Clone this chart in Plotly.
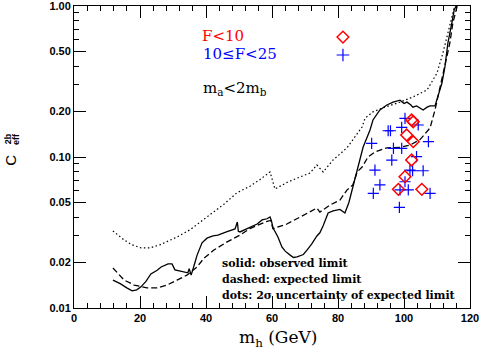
import plotly.graph_objects as go

# 2 sigma uncertainty of expected limit (dotted)
dots_x = [11.8, 15.2, 17.6, 20.3, 23.0, 26.0, 31.2, 35.2, 40.3, 45.5, 49.4, 53.3, 56.4, 58.8, 59.4,
          60.9, 62.4, 64.8, 68.5, 71.5, 73.6, 75.5, 78.5, 82.7, 84.5, 87.3, 88.2, 90.6, 94.2, 98.8,
          102.7, 107.0, 110.0, 111.8, 113.3, 114.5, 115.2, 115.8]
dots_y = [0.0324, 0.0282, 0.0262, 0.0250, 0.0250, 0.0262, 0.0295, 0.0330, 0.0401, 0.0488, 0.0580, 0.0640, 0.0710, 0.0783, 0.0796,
          0.0614, 0.0640, 0.0683, 0.0738, 0.0783, 0.0885, 0.0796, 0.0955, 0.115, 0.130, 0.158, 0.181, 0.199, 0.214, 0.231,
          0.250, 0.278, 0.360, 0.489, 0.662, 0.846, 1.0, 1.1]

# observed limit (solid)
obs_x = [11.8, 14.0, 16.0, 17.6, 19.0, 20.3, 21.8, 23.3, 25.2, 26.4,
         28.5, 29.7, 30.6, 32.0, 33.3, 34.5, 34.9, 35.5, 36.5, 37.3,
         38.8, 40.3, 42.1, 43.6, 46.4, 48.8, 49.5, 49.8, 50.3, 53.3,
         55.5, 57.0, 58.5, 59.4, 59.8, 60.3, 61.8, 63.0, 64.0, 65.5,
         66.5, 67.6, 68.5, 69.5, 70.6, 72.0, 73.6, 74.5, 75.5, 77.0,
         78.5, 79.7, 80.6, 82.1, 83.3, 84.5, 85.5, 86.7, 87.6, 89.7,
         90.6, 92.7, 94.8, 96.7, 98.8, 100.0, 100.9, 102.0, 102.7, 103.8,
         104.8, 105.8, 107.0, 107.9, 109.4, 110.3, 111.5, 112.4, 113.3, 114.5,
         115.2, 115.8, 116.2]
obs_y = [0.0153, 0.0145, 0.0136, 0.0130, 0.0132, 0.0138, 0.0150, 0.0168, 0.0178, 0.0187,
         0.0196, 0.0196, 0.0179, 0.0176, 0.0173, 0.0171, 0.0182, 0.0165, 0.0195, 0.0224,
         0.0270, 0.0290, 0.0300, 0.0304, 0.0320, 0.0334, 0.0371, 0.0322, 0.0319, 0.0344,
         0.0360, 0.0383, 0.0390, 0.0401, 0.0380, 0.0340, 0.0295, 0.0254, 0.0238, 0.0224,
         0.0216, 0.0218, 0.0222, 0.0226, 0.0242, 0.0265, 0.0300, 0.0315, 0.0350, 0.0426,
         0.0440, 0.0446, 0.0450, 0.0426, 0.0500, 0.0633, 0.0780, 0.0955, 0.116, 0.151,
         0.176, 0.205, 0.221, 0.231, 0.238, 0.226, 0.231, 0.222, 0.214, 0.218,
         0.210, 0.205, 0.214, 0.218, 0.218, 0.250, 0.309, 0.395, 0.569, 0.772,
         0.941, 1.0, 1.1]

# expected limit (dashed)
exp_x = [11.8, 15.2, 18.2, 22.1, 25.2, 28.2, 31.2, 34.2, 37.3, 39.4,
         42.4, 46.4, 50.3, 53.3, 58.5, 59.6, 60.3, 62.0, 64.5, 68.5,
         73.6, 74.5, 77.6, 80.6, 82.7, 84.5, 85.8, 87.3, 89.1, 91.2,
         94.8, 98.8, 101.8, 104.8, 107.9, 109.4, 110.9, 112.4, 113.9, 114.8,
         116.1, 116.6]
exp_y = [0.0184, 0.0153, 0.0142, 0.0136, 0.0136, 0.0142, 0.0153, 0.0165, 0.0187, 0.0214,
         0.0242, 0.0274, 0.0304, 0.0336, 0.0375, 0.0380, 0.0335, 0.0345, 0.0360, 0.0400,
         0.0459, 0.0432, 0.0481, 0.0519, 0.0604, 0.0653, 0.0796, 0.0859, 0.100, 0.108,
         0.115, 0.116, 0.120, 0.130, 0.156, 0.205, 0.291, 0.395, 0.569, 0.772,
         0.98, 1.1]

# points with F<10
red_x = [102.3, 102.8, 100.8, 102.8, 102.3, 100.3, 98.3, 105.4]
red_y = [0.1758, 0.1713, 0.1399, 0.1263, 0.0955, 0.0741, 0.0611, 0.0611]

# points with 10<=F<25
blue_x = [100.3, 104.3, 99.3, 95.2, 95.9, 90.2, 107.4, 96.8, 99.3, 96.3, 103.8,
          91.2, 101.8, 102.6, 105.8, 92.7, 100.3, 90.7, 98.8, 101.3, 107.9, 98.6]
blue_y = [0.1804, 0.1629, 0.1573, 0.1493, 0.1493, 0.1232, 0.1263, 0.1142, 0.1142, 0.0955, 0.1005,
          0.0820, 0.0820, 0.0811, 0.0811, 0.0653, 0.0686, 0.0575, 0.0605, 0.0605, 0.0575, 0.0464]

ytick_vals = [0.01, 0.02, 0.05, 0.1, 0.2, 0.5, 1.0]
ytick_text = ["0.01", "0.02", "0.05", "0.10", "0.20", "0.50", "1.00"]
yminor_vals = [0.03, 0.04, 0.06, 0.07, 0.08, 0.09, 0.3, 0.4, 0.6, 0.7, 0.8, 0.9]

RED = "#ff0000"
BLUE = "#0000ff"
SERIF = "DejaVu Serif"
SANS = "Liberation Sans"

fig = go.Figure()

fig.add_trace(go.Scatter(x=dots_x, y=dots_y, mode="lines",
                         line=dict(color="black", width=1.2, dash="1.5px,2.5px")))
fig.add_trace(go.Scatter(x=exp_x, y=exp_y, mode="lines",
                         line=dict(color="black", width=1.3, dash="6px,3px")))
fig.add_trace(go.Scatter(x=obs_x, y=obs_y, mode="lines",
                         line=dict(color="black", width=1.3)))
fig.add_trace(go.Scatter(x=blue_x, y=blue_y, mode="markers",
                         marker=dict(symbol="cross-thin-open", size=8, color=BLUE,
                                     line=dict(color=BLUE, width=1.2))))
fig.add_trace(go.Scatter(x=red_x, y=red_y, mode="markers",
                         marker=dict(symbol="diamond-open", size=9, color=RED,
                                     line=dict(color=RED, width=1.5))))

# legend keys
fig.add_trace(go.Scatter(x=[81.5], y=[0.623], mode="markers",
                         marker=dict(symbol="diamond-open", size=9, color=RED,
                                     line=dict(color=RED, width=1.5))))
fig.add_trace(go.Scatter(x=[81.5], y=[0.474], mode="markers",
                         marker=dict(symbol="cross-thin-open", size=9, color=BLUE,
                                     line=dict(color=BLUE, width=1.2))))

ann = [
    dict(text="F<10", x=0.318, y=0.90, font=dict(color=RED, size=15, family=SERIF)),
    dict(text="10≤F<25", x=0.320, y=0.841, font=dict(color=BLUE, size=15, family=SERIF)),
    dict(text="m<sub>a</sub><2m<sub>b</sub>", x=0.320, y=0.728,
         font=dict(color="black", size=15, family=SERIF)),
    dict(text="solid: observed limit", x=0.369, y=0.146,
         font=dict(size=11, family=SERIF, color="black", weight="bold")),
    dict(text="dashed: expected limit", x=0.369, y=0.093,
         font=dict(size=11, family=SERIF, color="black", weight="bold")),
    dict(text="dots: 2σ uncertainty of expected limit", x=0.369, y=0.040,
         font=dict(size=11, family=SERIF, color="black", weight="bold")),
]
annotations = []
for a in ann:
    a.update(xref="paper", yref="paper", xanchor="left", yanchor="middle", showarrow=False)
    annotations.append(a)

# axis titles
annotations.append(dict(text="m<sub>h</sub> (GeV)", x=0.515, y=-0.10, xref="paper", yref="paper",
                        xanchor="center", yanchor="middle", showarrow=False,
                        font=dict(size=17, family=SERIF, color="black")))
annotations.append(dict(text="C", x=-0.162, y=0.49, xref="paper", yref="paper", textangle=-90,
                        xanchor="center", yanchor="middle", showarrow=False,
                        font=dict(size=15, family=SANS, color="black")))
annotations.append(dict(text="2b", x=-0.166, y=0.56, xref="paper", yref="paper", textangle=-90,
                        xanchor="center", yanchor="middle", showarrow=False,
                        font=dict(size=9, family=SANS, color="black", weight="bold")))
annotations.append(dict(text="eff", x=-0.146, y=0.56, xref="paper", yref="paper", textangle=-90,
                        xanchor="center", yanchor="middle", showarrow=False,
                        font=dict(size=9, family=SANS, color="black", weight="bold")))

fig.update_layout(
    width=485, height=350,
    margin=dict(l=74, r=15, t=6, b=42, autoexpand=False),
    plot_bgcolor="white", paper_bgcolor="white",
    showlegend=False,
    annotations=annotations,
    xaxis=dict(range=[0, 120], tick0=0, dtick=20, ticks="inside", ticklen=12, tickwidth=1,
               tickcolor="black", showline=True, linecolor="black", linewidth=1,
               mirror="allticks", showgrid=False, zeroline=False, automargin=False,
               ticklabeloverflow="allow",
               minor=dict(dtick=4, ticks="inside", ticklen=5, tickcolor="black", showgrid=False),
               tickfont=dict(family=SANS, size=11, color="black", weight="bold")),
    yaxis=dict(type="log", range=[-2, 0.0002], tickvals=ytick_vals, ticktext=ytick_text,
               ticks="inside", ticklen=12, tickwidth=1, tickcolor="black",
               showline=True, linecolor="black", linewidth=1, mirror="allticks",
               showgrid=False, zeroline=False, automargin=False,
               ticklabeloverflow="allow",
               minor=dict(tickvals=yminor_vals, ticks="inside", ticklen=5, tickcolor="black",
                          showgrid=False),
               tickfont=dict(family=SANS, size=11, color="black", weight="bold")),
)

fig.write_html("out.html", config={"displayModeBar": False},
               post_script="document.body.style.margin='0';")
